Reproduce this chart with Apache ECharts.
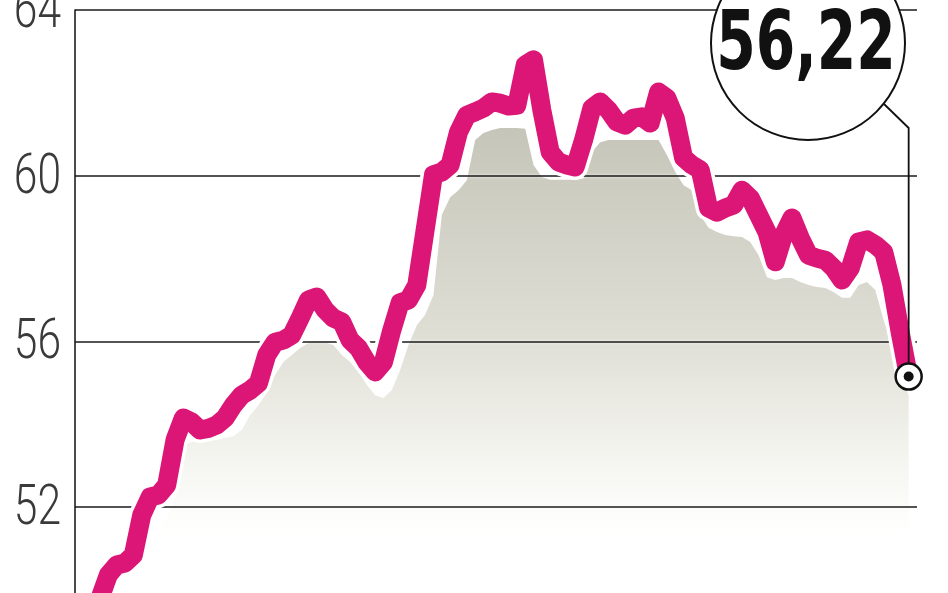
<!DOCTYPE html>
<html><head><meta charset="utf-8">
<script src="https://cdn.jsdelivr.net/npm/echarts@6/dist/echarts.min.js"></script>
<style>html,body{margin:0;padding:0;background:#fff}#c{width:948px;height:593px}</style>
</head><body><div id="c"></div>
<script>
// main series (magenta line)
const priceValues = [
  49.8, 50.36, 50.6, 50.65, 50.84, 51.8, 52.24, 52.29, 52.53, 53.62,
  54.15, 54.05, 53.86, 53.9, 53.98, 54.15, 54.46, 54.7, 54.82, 54.99,
  55.67, 55.98, 56.03, 56.15, 56.56, 57.0, 57.07, 56.76, 56.56, 56.47,
  56.03, 55.84, 55.5, 55.26, 55.5, 56.27, 56.93, 57.0, 57.36, 58.69,
  60.02, 60.09, 60.26, 61.05, 61.46, 61.54, 61.63, 61.78, 61.75, 61.68,
  61.7, 62.67, 62.8, 61.58, 60.57, 60.33, 60.26, 60.21, 60.86, 61.63,
  61.78, 61.58, 61.3, 61.22, 61.39, 61.42, 61.27, 62.02, 61.87, 61.39,
  60.43, 60.26, 60.14, 59.22, 59.12, 59.22, 59.29, 59.65, 59.46, 59.05,
  58.64, 57.92, 58.57, 58.98, 58.49, 58.08, 58.01, 57.96, 57.77, 57.48,
  57.77, 58.4, 58.45, 58.33, 58.16, 57.36, 56.2, 55.15
];
// grey shaded area beneath the line
const shadowValues = [
  49.0, 49.3, 49.6, 49.8, 50.0, 50.5, 51.0, 51.4, 51.7, 52.2,
  53.5, 53.57, 53.62, 53.62, 53.62, 53.67, 53.71, 53.86, 54.22, 54.46,
  54.75, 55.19, 55.5, 55.67, 55.84, 55.96, 55.98, 55.98, 55.91, 55.67,
  55.5, 55.26, 54.95, 54.7, 54.63, 54.82, 55.31, 55.91, 56.39, 56.64,
  57.12, 59.05, 59.48, 59.65, 59.89, 60.86, 61.03, 61.1, 61.15, 61.15,
  61.15, 61.13, 60.26, 59.97, 59.9, 59.9, 59.9, 59.9, 59.94, 60.57,
  60.81, 60.86, 60.86, 60.86, 60.86, 60.86, 60.86, 60.86, 60.5, 60.09,
  59.77, 59.65, 59.05, 58.74, 58.64, 58.57, 58.54, 58.52, 58.4, 58.08,
  57.55, 57.48, 57.53, 57.53, 57.43, 57.36, 57.31, 57.29, 57.19, 57.05,
  57.05, 57.36, 57.43, 57.24, 56.51, 55.91, 55.31, 54.7
];
const yTickLabels = [52, 56, 60, 64];
const lastValueLabel = '56,22';

const lineData = priceValues.map((v, i) => [i, v]);
const shadowData = shadowValues.map((v, i) => [i, v]);
const lastIdx = priceValues.length - 1;
const lastVal = priceValues[lastIdx];

const chart = echarts.init(document.getElementById('c'), null, {renderer: 'canvas'});
const MAGENTA = '#DC1677';

chart.setOption({
  animation: false,
  backgroundColor: '#fff',
  grid: {left: 75, right: 31, top: 10, bottom: -79.7, containLabel: false, outerBoundsMode: 'none'},
  xAxis: {
    type: 'value', min: -3, max: 98, show: false,
    splitLine: {show: false}
  },
  yAxis: {
    type: 'value', min: 48, max: 64, interval: 4,
    axisLine: {show: true, onZero: false, lineStyle: {color: '#111', width: 1.5}},
    axisTick: {show: false},
    splitLine: {show: true, lineStyle: {color: '#1a1a1a', width: 1.5,
      shadowColor: 'rgba(255,255,255,0.95)', shadowBlur: 3}},
    axisLabel: {show: false}
  },
  series: [
    {
      type: 'line', name: 'shade', data: shadowData, z: -1,
      showSymbol: false, silent: true,
      lineStyle: {width: 0, opacity: 0},
      areaStyle: {
        opacity: 1,
        color: {
          type: 'linear', x: 0, y: 0, x2: 0, y2: 1,
          colorStops: [
            {offset: 0, color: 'rgb(198,197,185)'},
            {offset: 0.39, color: 'rgb(224,223,214)'},
            {offset: 0.59, color: 'rgb(243,243,238)'},
            {offset: 0.70, color: 'rgb(252,252,250)'},
            {offset: 0.75, color: 'rgb(255,255,255)'},
            {offset: 1, color: 'rgb(255,255,255)'}
          ]
        }
      }
    },
    {
      type: 'line', name: 'halo', data: lineData, z: 3,
      showSymbol: false, silent: true,
      lineStyle: {color: '#fff', width: 26, join: 'round', cap: 'round'}
    },
    {
      type: 'line', name: 'price', data: lineData, z: 4,
      showSymbol: false, silent: true,
      lineStyle: {color: MAGENTA, width: 19, join: 'round', cap: 'round'},
      markPoint: {
        silent: true,
        label: {show: false},
        data: [
          {coord: [lastIdx, lastVal], symbol: 'circle', symbolSize: 26,
           itemStyle: {color: '#fff', borderColor: '#111', borderWidth: 2.5}},
          {coord: [lastIdx, lastVal], symbol: 'circle', symbolSize: 10,
           itemStyle: {color: '#111'}}
        ]
      }
    }
  ]
});

const endPx = chart.convertToPixel({gridIndex: 0}, [lastIdx, lastVal]);
const tickTexts = yTickLabels.map(v => {
  const p = chart.convertToPixel({gridIndex: 0}, [-3, v]);
  return {type: 'text', z: 40, x: p[0] - 14, y: p[1] + 3, scaleX: 0.76,
    style: {text: String(v), fill: '#3a3a3a',
      font: '300 56px Roboto, "Liberation Sans", sans-serif',
      textAlign: 'right', textVerticalAlign: 'middle'}};
});
chart.setOption({
  graphic: tickTexts.concat([
    {type: 'polyline', z: 50,
     shape: {points: [[884, 104], [endPx[0], 128], [endPx[0], endPx[1] - 13]]},
     style: {stroke: '#111', lineWidth: 1.8, fill: null}},
    {type: 'circle', z: 60, shape: {cx: 808, cy: 43, r: 97},
     style: {fill: '#fff', stroke: '#111', lineWidth: 2}},
    {type: 'text', z: 70, x: 806, y: 48, scaleX: 0.77,
     style: {text: lastValueLabel, fill: '#111',
       font: 'bold 82px "DejaVu Sans Condensed", "DejaVu Sans", sans-serif',
       textAlign: 'center', textVerticalAlign: 'middle'}}
  ])
});
</script>
</body></html>
